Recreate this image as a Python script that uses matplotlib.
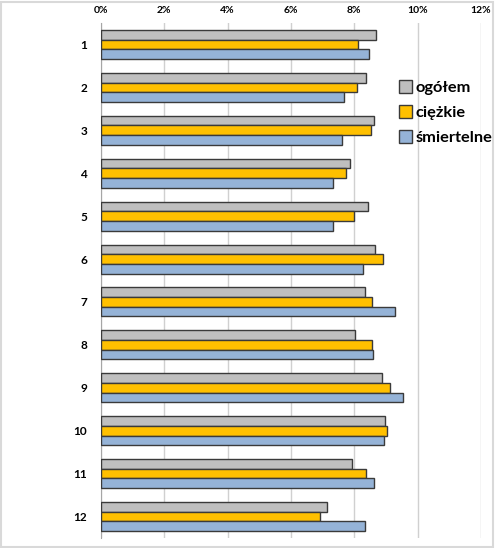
import numpy as np
import matplotlib.pyplot as plt
from matplotlib.patches import Rectangle

# values (share, %)
months = ['1', '2', '3', '4', '5', '6', '7', '8', '9', '10', '11', '12']
ogolem = [8.67, 8.36, 8.63, 7.86, 8.44, 8.65, 8.35, 8.03, 8.88, 8.98, 7.92, 7.15]
ciezkie = [8.13, 8.10, 8.52, 7.74, 7.98, 8.92, 8.57, 8.56, 9.13, 9.04, 8.36, 6.93]
smiertelne = [8.46, 7.67, 7.60, 7.33, 7.33, 8.27, 9.30, 8.58, 9.55, 8.94, 8.61, 8.33]
series_names = ['ogółem', 'ciężkie', 'śmiertelne']
colors = ['#BFBFBF', '#FFC000', '#95B3D7']
xticks = [0, 2, 4, 6, 8, 10, 12]

plt.rcParams['font.family'] = ['Lato', 'DejaVu Sans']

fig = plt.figure(figsize=(4.95, 5.48), dpi=100)
ax = fig.add_axes([101/495, 1 - 538/548, 380/495, 515/548])

y = np.arange(len(months))
h = 0.225
for i, (vals, name, c) in enumerate(zip([ogolem, ciezkie, smiertelne], series_names, colors)):
    ax.barh(y + (i - 1) * h, vals, height=h, color=c, edgecolor='#3A3A3A',
            linewidth=1.0, label=name, zorder=3)

ax.set_xlim(0, 12)
ax.set_ylim(len(months) - 0.5, -0.5)
ax.set_xticks(xticks)
ax.set_xticklabels([f'{t}%' for t in xticks], fontsize=7.5, fontweight='bold')
ax.xaxis.tick_top()
ax.set_yticks(y)
ax.set_yticklabels(months, fontsize=8.5, fontweight='bold')
ax.tick_params(length=0, pad=10)
ax.tick_params(axis='x', pad=6)
ax.grid(axis='x', color='#D0D0D0', linewidth=1, zorder=0)
for s in ['top', 'bottom', 'right']:
    ax.spines[s].set_visible(False)
ax.spines['left'].set_color('#A6A6A6')

leg = fig.legend(loc='upper left', bbox_to_anchor=(399/495, 1 - 80/548), frameon=False,
                 prop={'size': 11.8, 'weight': 'bold'}, handlelength=0.8, handleheight=0.8,
                 handletextpad=0.2, labelspacing=0.62, borderaxespad=0, borderpad=0)

fig.patches.append(Rectangle((0.002, 0.002), 0.994, 0.994, transform=fig.transFigure,
                             fill=False, edgecolor='#D9D9D9', linewidth=1.5))

fig.savefig('out.png', dpi=100)
